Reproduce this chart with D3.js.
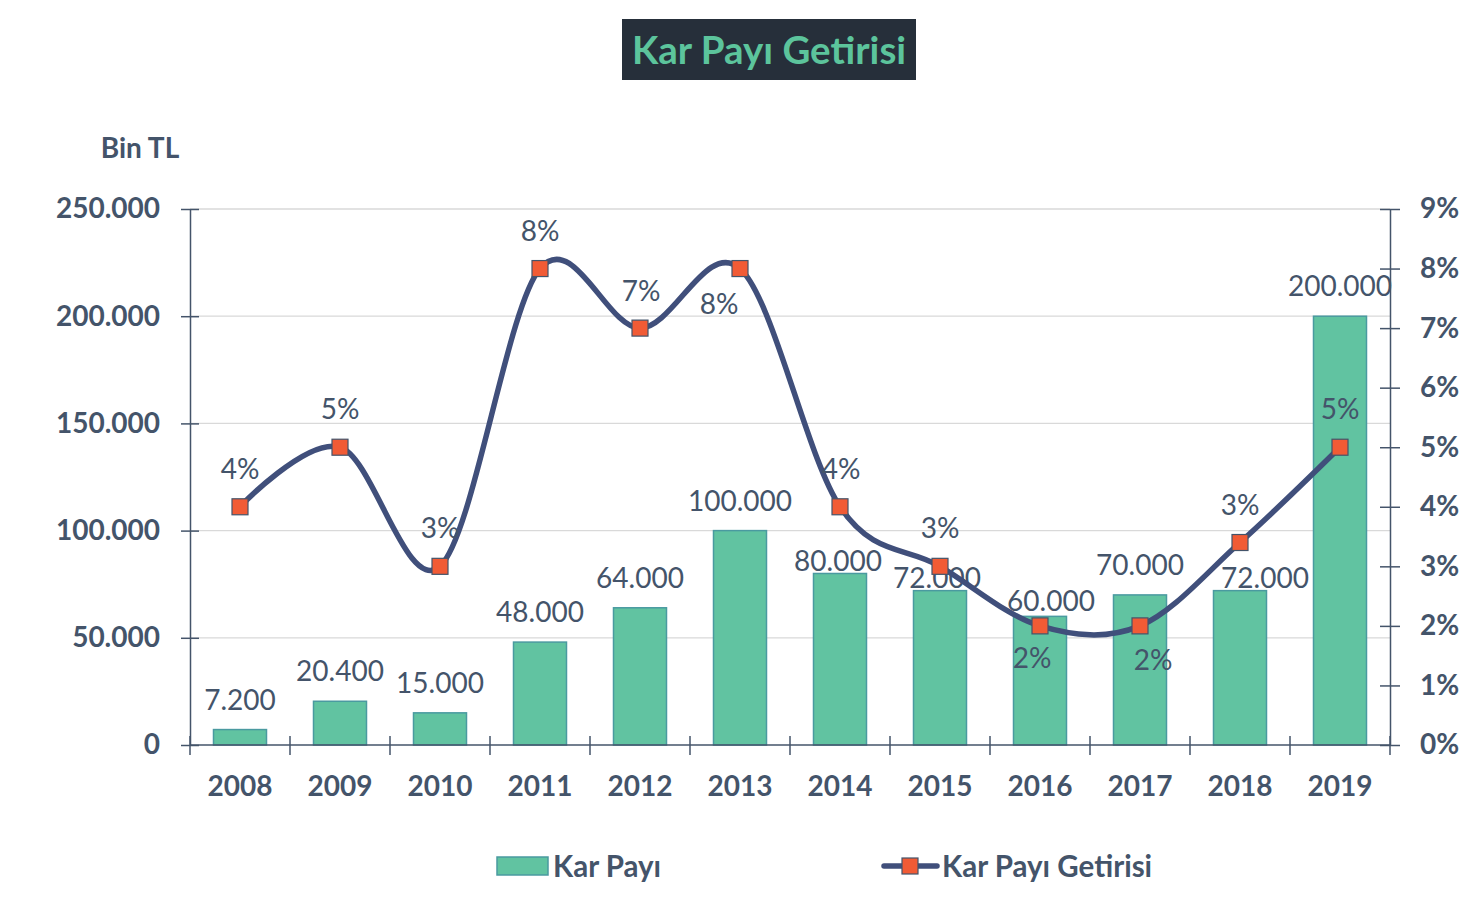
<!DOCTYPE html>
<html><head><meta charset="utf-8">
<script src="https://cdn.jsdelivr.net/npm/d3@7"></script>
<style>
html,body{margin:0;padding:0;background:#fff;}
svg{display:block;font-family:Lato,"Open Sans",sans-serif;}
</style></head>
<body>
<svg id="chart" width="1465" height="915"></svg>
<script>
// ---- data ----
const years = ["2008","2009","2010","2011","2012","2013","2014","2015","2016","2017","2018","2019"];
const karPayi = [7200,20400,15000,48000,64000,100000,80000,72000,60000,70000,72000,200000];
const getiri = [0.04,0.05,0.03,0.08,0.07,0.08,0.04,0.03,0.02,0.02,0.034,0.05];
const getiriLabels = ["4%","5%","3%","8%","7%","8%","4%","3%","2%","2%","3%","5%"];
const leftTicks = [0,50000,100000,150000,200000,250000];
const rightTicks = [0,0.01,0.02,0.03,0.04,0.05,0.06,0.07,0.08,0.09];
// label nudges (layout, px)
const barLabelDx = [0,0,0,0,0,0,-2,-3,11,0,25,0];
const barLabelDy = [-30,-30,-30,-30,-30,-30,-13,-13,-15,-30,-13,-30];
const pctLabelDx = [0,0,0,0,1,-21,1,0,-8,13,0,0];
const pctLabelDy = [-38,-38,-38,-38,-37,35,-38,-38,32,34,-38,-38];

const TXT = "#44546a";
const trFmt = d3.formatLocale({decimal:",",thousands:".",grouping:[3],currency:["","TL"]}).format(",d");

const svg = d3.select("#chart");
const L = 190, R = 1390, T = 209, B = 745;

const x = d3.scaleBand().domain(years).range([L,R]).paddingInner(0.47).paddingOuter(0.235);
const y = d3.scaleLinear().domain([0,250000]).range([B,T]);
const y2 = d3.scaleLinear().domain([0,0.09]).range([B,T]);

// title
svg.append("rect").attr("x",622).attr("y",19).attr("width",294).attr("height",61).attr("fill","#262f3a");
svg.append("text").attr("x",769).attr("y",50).attr("dy","0.36em").attr("text-anchor","middle")
  .attr("font-size",38.5).attr("font-weight",700).attr("fill","#5cc49c").text("Kar Payı Getirisi");

// unit label
svg.append("text").attr("x",140).attr("y",148).attr("dy","0.36em").attr("text-anchor","middle")
  .attr("font-size",28).attr("font-weight",700).attr("fill",TXT).text("Bin TL");

// gridlines
svg.append("g").selectAll("line").data(leftTicks.filter(d=>d>0)).join("line")
  .attr("x1",L).attr("x2",R).attr("y1",d=>y(d)).attr("y2",d=>y(d))
  .attr("stroke","#d9d9d9").attr("stroke-width",1.3);

// bars
svg.append("g").selectAll("rect").data(karPayi).join("rect")
  .attr("x",(d,i)=>x(years[i])).attr("width",x.bandwidth())
  .attr("y",d=>y(d)).attr("height",d=>B-y(d))
  .attr("fill","#61c3a1").attr("stroke","#4a9aa0").attr("stroke-width",1.5);

// axes
const axStyle = g => {
  g.selectAll("path").attr("stroke",TXT).attr("stroke-width",1.5);
  g.selectAll("line").attr("stroke",TXT).attr("stroke-width",1.5);
  g.selectAll("text").attr("fill",TXT).attr("font-size",28).attr("font-weight",700).attr("font-family","Lato,'Open Sans',sans-serif");
};
const gl = svg.append("g").attr("transform",`translate(${L},0)`)
  .call(d3.axisLeft(y).tickValues(leftTicks).tickSize(9).tickSizeOuter(0).tickPadding(21).tickFormat(trFmt));
gl.selectAll(".tick line").attr("x1",9);
axStyle(gl);

const gr = svg.append("g").attr("transform",`translate(${R},0)`)
  .call(d3.axisRight(y2).tickValues(rightTicks).tickSize(10).tickSizeOuter(0).tickPadding(20).tickFormat(d3.format(".0%")));
gr.selectAll(".tick line").attr("x1",-10);
axStyle(gr);

const gx = svg.append("g").attr("transform",`translate(0,${B})`)
  .call(d3.axisBottom(x).tickSize(0).tickPadding(31));
gx.select(".domain").attr("d",`M${L},0H${R}`);
axStyle(gx);
// category boundary ticks
const bounds = years.map(d=>x(d)-(x.step()-x.bandwidth())/2).concat([R]);
gx.append("g").selectAll("line").data(bounds).join("line")
  .attr("x1",d=>d).attr("x2",d=>d).attr("y1",-9).attr("y2",10)
  .attr("stroke",TXT).attr("stroke-width",1.5);

// bar labels
svg.append("g").selectAll("text").data(karPayi).join("text")
  .attr("x",(d,i)=>x(years[i])+x.bandwidth()/2+barLabelDx[i])
  .attr("y",(d,i)=>y(d)+barLabelDy[i]).attr("dy","0.36em")
  .attr("text-anchor","middle").attr("font-size",28).attr("fill",TXT).text(d=>trFmt(d));

// line
const cx = i => x(years[i])+x.bandwidth()/2;
const line = d3.line().x((d,i)=>cx(i)).y(d=>y2(d)).curve(d3.curveCardinal.tension(0));
svg.append("path").datum(getiri).attr("d",line).attr("fill","none")
  .attr("stroke","#404f7b").attr("stroke-width",5.5).attr("stroke-linecap","round");

// markers
const ms = 16;
svg.append("g").selectAll("rect").data(getiri).join("rect")
  .attr("x",(d,i)=>cx(i)-ms/2).attr("y",d=>y2(d)-ms/2).attr("width",ms).attr("height",ms)
  .attr("fill","#f15b35").attr("stroke","#44546a").attr("stroke-width",1.2);

// pct labels
svg.append("g").selectAll("text").data(getiri).join("text")
  .attr("x",(d,i)=>cx(i)+pctLabelDx[i]).attr("y",(d,i)=>y2(d)+pctLabelDy[i]).attr("dy","0.36em")
  .attr("text-anchor","middle").attr("font-size",28).attr("fill",TXT).text((d,i)=>getiriLabels[i]);

// legend
const lg = svg.append("g");
lg.append("rect").attr("x",497).attr("y",857).attr("width",51).attr("height",18)
  .attr("fill","#61c3a1").attr("stroke","#4a9aa0").attr("stroke-width",1.5);
lg.append("text").attr("x",553).attr("y",866).attr("dy","0.36em").attr("font-size",29.5).attr("font-weight",700).attr("fill",TXT).text("Kar Payı");
lg.append("line").attr("x1",884).attr("x2",937).attr("y1",866).attr("y2",866)
  .attr("stroke","#404f7b").attr("stroke-width",5.5).attr("stroke-linecap","round");
lg.append("rect").attr("x",902).attr("y",858).attr("width",16).attr("height",16)
  .attr("fill","#f15b35").attr("stroke","#44546a").attr("stroke-width",1.2);
lg.append("text").attr("x",942).attr("y",866).attr("dy","0.36em").attr("font-size",29.5).attr("font-weight",700).attr("fill",TXT).text("Kar Payı Getirisi");
</script>
</body></html>
